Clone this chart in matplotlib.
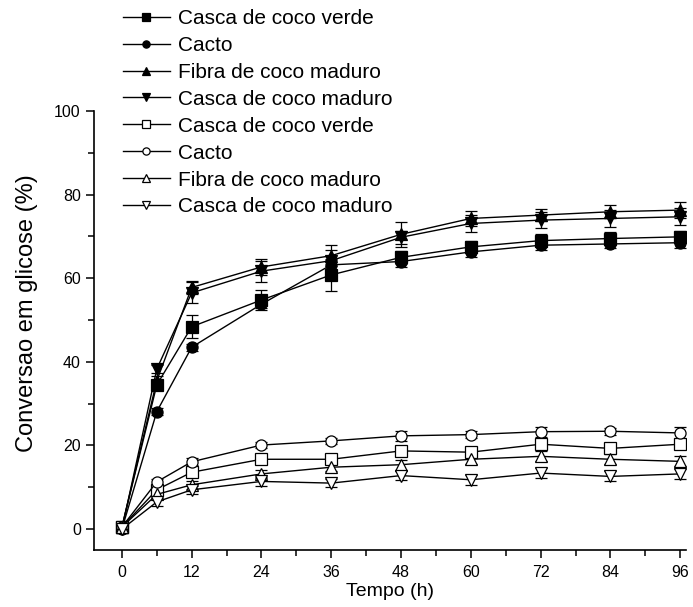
import matplotlib
matplotlib.use("Agg")
import matplotlib.pyplot as plt
from matplotlib.ticker import MultipleLocator

tempo = [0, 6, 12, 24, 36, 48, 60, 72, 84, 96]

# filled markers (upper group)
verde_a = [0.5, 34.5, 48.4, 54.8, 60.8, 65.0, 67.5, 69.0, 69.5, 69.9]
verde_a_err = [0.5, 1.0, 2.8, 2.5, 3.8, 1.5, 1.5, 1.5, 1.5, 1.5]
cacto_a = [0.0, 28.1, 43.5, 53.8, 63.2, 64.0, 66.3, 67.9, 68.2, 68.5]
cacto_a_err = [0.5, 0.8, 0.8, 1.0, 1.2, 1.2, 1.2, 1.2, 1.0, 1.2]
fibra_a = [0.5, 35.5, 57.8, 62.7, 65.4, 70.5, 74.3, 75.1, 75.9, 76.3]
fibra_a_err = [0.5, 1.0, 1.5, 2.0, 2.5, 3.0, 1.8, 1.5, 1.5, 2.0]
maduro_a = [0.0, 38.3, 56.5, 61.7, 64.2, 69.8, 73.1, 73.9, 74.3, 74.7]
maduro_a_err = [0.5, 1.0, 2.5, 2.5, 2.5, 1.5, 2.0, 2.0, 2.0, 2.0]

# open markers (lower group)
verde_b = [0.5, 9.4, 13.6, 16.7, 16.7, 18.7, 18.4, 20.3, 19.3, 20.3]
verde_b_err = [0.5, 0.8, 0.8, 0.8, 0.8, 1.0, 1.0, 0.8, 0.8, 1.0]
cacto_b = [0.5, 11.3, 16.1, 20.1, 21.1, 22.3, 22.6, 23.3, 23.4, 23.0]
cacto_b_err = [0.5, 0.8, 0.8, 0.8, 0.8, 1.2, 0.8, 1.2, 0.8, 1.5]
fibra_b = [0.5, 8.3, 10.6, 13.2, 14.8, 15.4, 16.7, 17.4, 16.7, 16.2]
fibra_b_err = [0.5, 1.0, 1.0, 1.0, 1.0, 1.2, 1.2, 1.2, 1.2, 1.2]
maduro_b = [0.0, 6.5, 9.4, 11.4, 11.0, 12.8, 11.8, 13.4, 12.6, 13.2]
maduro_b_err = [0.5, 1.0, 1.0, 1.0, 1.0, 1.0, 1.2, 1.2, 1.2, 1.2]

labels = ["Casca de coco verde", "Cacto", "Fibra de coco maduro", "Casca de coco maduro"]

plt.rcParams["font.family"] = ["Liberation Sans", "DejaVu Sans"]

fig = plt.figure(figsize=(6.93, 6.07), dpi=100)
ax = fig.add_axes([94 / 693, 1 - 550 / 607, 592 / 693, 439 / 607])

series = [
	(verde_a, verde_a_err, "s", "black", labels[0]),
	(cacto_a, cacto_a_err, "o", "black", labels[1]),
	(fibra_a, fibra_a_err, "^", "black", labels[2]),
	(maduro_a, maduro_a_err, "v", "black", labels[3]),
	(verde_b, verde_b_err, "s", "white", labels[0]),
	(cacto_b, cacto_b_err, "o", "white", labels[1]),
	(fibra_b, fibra_b_err, "^", "white", labels[2]),
	(maduro_b, maduro_b_err, "v", "white", labels[3]),
]

handles = []
for vals, errs, mk, fc, lab in series:
	ax.errorbar(tempo, vals, yerr=errs, fmt="none", ecolor="black",
				elinewidth=0.9, capsize=4, capthick=0.9, zorder=2)
	h, = ax.plot(tempo, vals, color="black", lw=1.0, marker=mk, ms=8,
				 mfc=fc, mec="black", mew=0.9, label=lab, zorder=3)
	handles.append(h)

ax.set_xlim(-4.8, 97)
ax.set_ylim(-5, 100)
ax.xaxis.set_major_locator(MultipleLocator(12))
ax.xaxis.set_minor_locator(MultipleLocator(6))
ax.yaxis.set_major_locator(MultipleLocator(20))
ax.yaxis.set_minor_locator(MultipleLocator(10))
ax.spines["top"].set_visible(False)
ax.spines["right"].set_visible(False)
for s in ["left", "bottom"]:
	ax.spines[s].set_linewidth(1.2)
ax.tick_params(which="major", direction="out", length=6, width=1.1, labelsize=11.5)
ax.tick_params(axis="x", which="major", pad=5)
ax.tick_params(which="minor", direction="out", length=4, width=1.1)

ax.set_xlabel("Tempo (h)", fontsize=14, labelpad=2)
ax.set_ylabel("Conversao em glicose (%)", fontsize=17)
ax.yaxis.set_label_coords(-0.095, 0.54)

fig.legend(handles=handles, loc="upper left", bbox_to_anchor=(123 / 693, 1 - 9 / 607),
		   frameon=False, fontsize=15, markerscale=0.65, handlelength=2.25,
		   handletextpad=0.4, labelspacing=0.38, borderpad=0, borderaxespad=0)

fig.savefig("out.png", dpi=100)
